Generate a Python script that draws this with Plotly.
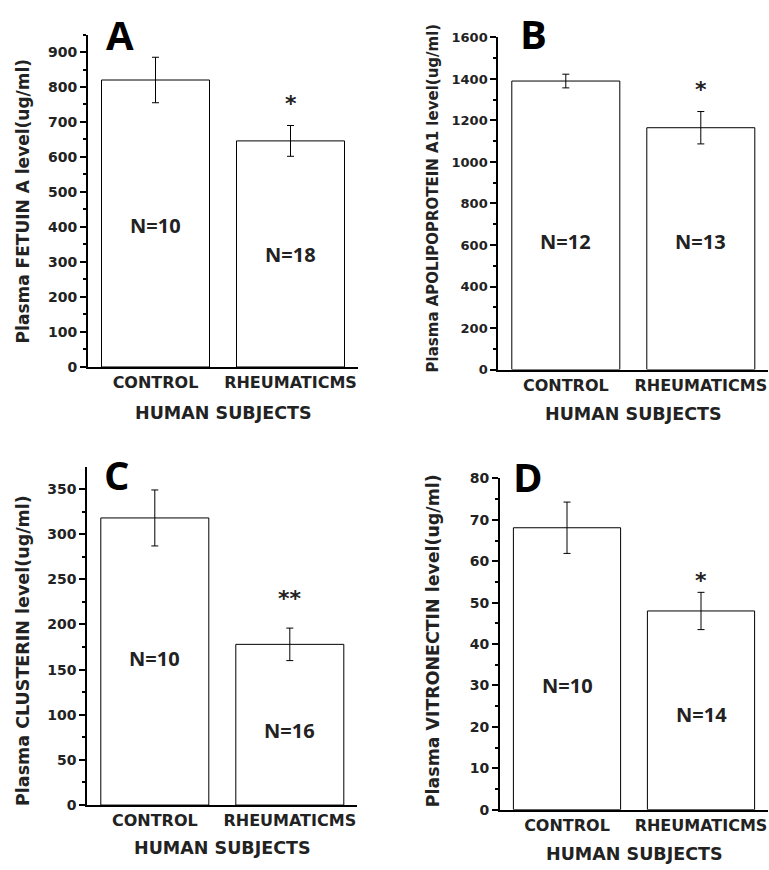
import plotly.graph_objects as go

# ---------------- data ----------------
categories = ["CONTROL", "RHEUMATICMS"]
x_title = "HUMAN SUBJECTS"

panel_letters = ["A", "B", "C", "D"]
y_titles = [
    "Plasma FETUIN A level(ug/ml)",
    "Plasma APOLIPOPROTEIN A1 level(ug/ml)",
    "Plasma CLUSTERIN level(ug/ml)",
    "Plasma VITRONECTIN level(ug/ml)",
]

fetuin_mean = [820, 646]
fetuin_err = [65, 44]
fetuin_n = [10, 18]

apoa1_mean = [1390, 1165]
apoa1_err = [33, 78]
apoa1_n = [12, 13]

clusterin_mean = [318, 178]
clusterin_err = [31, 18]
clusterin_n = [10, 16]

vitronectin_mean = [68.1, 48.0]
vitronectin_err = [6.2, 4.5]
vitronectin_n = [10, 14]

significance = ["*", "*", "**", "*"]

means = [fetuin_mean, apoa1_mean, clusterin_mean, vitronectin_mean]
errs = [fetuin_err, apoa1_err, clusterin_err, vitronectin_err]
ns = [fetuin_n, apoa1_n, clusterin_n, vitronectin_n]

# ---------------- layout (pixel geometry of the 769x870 page) ----------------
W, H = 769, 870
# (x0, x1, y_bottom, y_top) in pixels, y measured from top
boxes = [
    (88, 358, 365.7, 27.0),
    (498.3, 768.3, 368.3, 30.0),
    (87.3, 357.3, 812.0, 468.0),
    (500, 768, 816.7, 479.3),
]
y_ranges = [[0, 950], [0, 1600], [0, 374], [0, 80]]
y_dticks = [100, 200, 50, 10]
tick_sizes = [14, 13, 14, 14]
ytitle_sizes = [17, 15, 17.5, 17.4]
ytitle_pos = [(23, 197), (433, 194), (23, 655), (433, 645)]
xtitle_y = [413, 414, 856, 862]
letter_pos = [(120, 27), (533, 26), (117, 475), (528, 477)]
# N label heights (data units)
n_label_y = [[404, 320], [615, 615], [162, 83], [30, 23]]
star_px_offset = [22, 22, 30, 12]

FONT_ARIAL = "DejaVu Sans, Liberation Sans, sans-serif"
FONT_CALIBRI = "Open Sans, sans-serif"

fig = go.Figure()
annotations = []

for i in range(4):
    x0, x1, yb, yt = boxes[i]
    xa = "xaxis" if i == 0 else f"xaxis{i+1}"
    ya = "yaxis" if i == 0 else f"yaxis{i+1}"
    xr = "x" if i == 0 else f"x{i+1}"
    yr = "y" if i == 0 else f"y{i+1}"

    fig.add_trace(go.Bar(
        x=categories, y=means[i],
        xaxis=xr, yaxis=yr,
        width=0.8,
        marker=dict(color="white", line=dict(color="black", width=1)),
        error_y=dict(type="data", array=errs[i], color="black", thickness=1, width=3.5),
        showlegend=False,
    ))

    fig.update_layout(**{
        xa: dict(
            domain=[x0 / W, x1 / W],
            anchor=yr,
            type="category",
            range=[-0.5, 1.5],
            showline=True, linecolor="black", linewidth=2,
            ticks="", showgrid=False, zeroline=False,
            tickfont=dict(family=FONT_ARIAL, size=16, color="#222", weight="bold"),
            fixedrange=True,
        ),
        ya: dict(
            domain=[1 - yb / H, 1 - yt / H],
            anchor=xr,
            range=y_ranges[i],
            dtick=y_dticks[i],
            showline=True, linecolor="black", linewidth=2,
            ticks="outside", ticklen=6, tickwidth=1.5, tickcolor="black",
            minor=dict(ticks="outside", ticklen=3, tickwidth=1.5, tickcolor="black",
                       dtick=y_dticks[i] / 2, showgrid=False),
            showgrid=False, zeroline=False,
            tickfont=dict(family=FONT_ARIAL, size=tick_sizes[i], color="#222", weight="bold"),
            fixedrange=True,
        ),
    })

    # y title
    tx, ty = ytitle_pos[i]
    annotations.append(dict(
        text=y_titles[i], xref="paper", yref="paper",
        x=tx / W, y=1 - ty / H, xanchor="center", yanchor="middle",
        textangle=-90, showarrow=False,
        font=dict(family=FONT_ARIAL, size=ytitle_sizes[i], color="#222", weight="bold"),
    ))
    # x title
    annotations.append(dict(
        text=x_title, xref="paper", yref="paper",
        x=(x0 + x1) / 2 / W, y=1 - xtitle_y[i] / H, xanchor="center", yanchor="middle",
        showarrow=False,
        font=dict(family=FONT_ARIAL, size=17.5, color="#222", weight="bold"),
    ))
    # panel letter
    lx, ly = letter_pos[i]
    annotations.append(dict(
        text=panel_letters[i], xref="paper", yref="paper",
        x=lx / W, y=1 - ly / H, xanchor="center", yanchor="middle",
        showarrow=False,
        font=dict(family=FONT_CALIBRI, size=40, color="black", weight="bold"),
    ))
    # N labels
    for j in range(2):
        annotations.append(dict(
            text=f"N={ns[i][j]}", xref=xr, yref=yr,
            x=categories[j], y=n_label_y[i][j], xanchor="center", yanchor="middle",
            showarrow=False,
            font=dict(family=FONT_CALIBRI, size=20, color="#222", weight="bold"),
        ))
    # significance star above the error bar of the second group
    annotations.append(dict(
        text=significance[i], xref=xr, yref=yr,
        x=categories[1], y=means[i][1] + errs[i][1], yshift=star_px_offset[i],
        xanchor="center", yanchor="middle", showarrow=False,
        font=dict(family=FONT_ARIAL, size=22, color="#222", weight="bold"),
    ))

fig.update_layout(
    width=W, height=H,
    margin=dict(l=0, r=0, t=0, b=0),
    paper_bgcolor="white", plot_bgcolor="white",
    annotations=annotations,
    bargap=0.2,
)

fig.write_html(
    "out.html",
    config={"displayModeBar": False},
    post_script="document.body.style.margin='0';document.body.style.overflow='hidden';",
)
